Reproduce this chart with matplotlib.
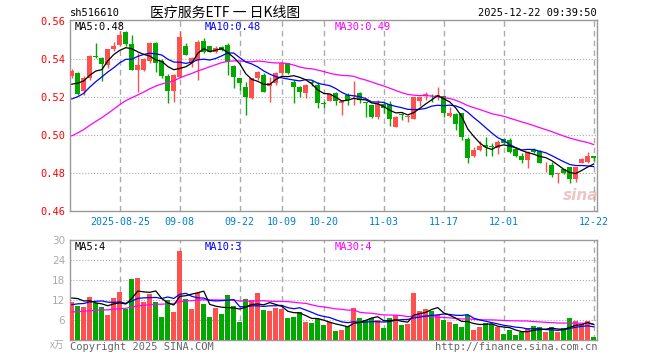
import numpy as np
import pandas as pd
import matplotlib
matplotlib.use("Agg")
import matplotlib.pyplot as plt

plt.rcParams['font.family'] = ['DejaVu Sans Mono', 'Noto Sans CJK SC']

# trading days shown (National Day holiday removed)
days = pd.bdate_range("2025-08-13", "2025-12-22")
days = days[(days < "2025-10-01") | (days > "2025-10-08")]

tick_dates = ["2025-08-25", "2025-09-08", "2025-09-22", "2025-10-09", "2025-10-20",
              "2025-11-03", "2025-11-17", "2025-12-01", "2025-12-22"]
tick_labels = ["2025-08-25", "09-08", "09-22", "10-09", "10-20",
               "11-03", "11-17", "12-01", "12-22"]

opens = [0.5310, 0.5328, 0.5230, 0.5300, 0.5415, 0.5405, 0.5370, 0.5455, 0.5475, 0.5542,
         0.5480, 0.5342, 0.5342, 0.5388, 0.5484, 0.5388, 0.5310, 0.5232, 0.5307, 0.5468,
         0.5377, 0.5395, 0.5495, 0.5467, 0.5439, 0.5465, 0.5474, 0.5363, 0.5298, 0.5251,
         0.5193, 0.5298, 0.5316, 0.5258, 0.5272, 0.5328, 0.5377, 0.5281, 0.5254, 0.5221,
         0.5281, 0.5263, 0.5165, 0.5180, 0.5221, 0.5167, 0.5212, 0.5207, 0.5221, 0.5170,
         0.5156, 0.5097, 0.5165, 0.5163, 0.5044, 0.5111, 0.5095, 0.5084, 0.5179, 0.5203,
         0.5217, 0.5202, 0.5207, 0.5100, 0.5112, 0.5114, 0.4977, 0.4890, 0.4921, 0.4946,
         0.4942, 0.4930, 0.4977, 0.4974, 0.4925, 0.4890, 0.4868, 0.4921, 0.4918, 0.4856,
         0.4842, 0.4796, 0.4821, 0.4830, 0.4768, 0.4854, 0.4860, 0.4888]
highs = [0.5345, 0.5332, 0.5310, 0.5420, 0.5486, 0.5410, 0.5455, 0.5490, 0.5546, 0.5548,
         0.5526, 0.5430, 0.5405, 0.5490, 0.5490, 0.5400, 0.5320, 0.5320, 0.5549, 0.5483,
         0.5410, 0.5500, 0.5510, 0.5470, 0.5467, 0.5470, 0.5483, 0.5370, 0.5300, 0.5281,
         0.5300, 0.5335, 0.5325, 0.5307, 0.5330, 0.5386, 0.5380, 0.5290, 0.5256, 0.5268,
         0.5290, 0.5281, 0.5180, 0.5216, 0.5225, 0.5180, 0.5221, 0.5286, 0.5228, 0.5175,
         0.5160, 0.5184, 0.5170, 0.5177, 0.5100, 0.5114, 0.5104, 0.5200, 0.5200, 0.5228,
         0.5217, 0.5251, 0.5212, 0.5149, 0.5114, 0.5117, 0.4988, 0.4939, 0.4968, 0.4988,
         0.4960, 0.4974, 0.4983, 0.4982, 0.4930, 0.4904, 0.4918, 0.4930, 0.4920, 0.4858,
         0.4858, 0.4802, 0.4823, 0.4833, 0.4833, 0.4879, 0.4912, 0.4888]
lows = [0.5300, 0.5212, 0.5210, 0.5290, 0.5405, 0.5286, 0.5350, 0.5440, 0.5470, 0.5470,
        0.5340, 0.5228, 0.5335, 0.5380, 0.5333, 0.5300, 0.5167, 0.5175, 0.5300, 0.5421,
        0.5360, 0.5290, 0.5430, 0.5435, 0.5430, 0.5440, 0.5316, 0.5246, 0.5237, 0.5105,
        0.5190, 0.5290, 0.5225, 0.5175, 0.5265, 0.5316, 0.5320, 0.5167, 0.5202, 0.5193,
        0.5260, 0.5140, 0.5140, 0.5177, 0.5160, 0.5105, 0.5160, 0.5160, 0.5170, 0.5097,
        0.5090, 0.5083, 0.5117, 0.5049, 0.5040, 0.5079, 0.5070, 0.5083, 0.5151, 0.5186,
        0.5172, 0.5186, 0.5097, 0.5097, 0.5026, 0.4974, 0.4854, 0.4883, 0.4918, 0.4890,
        0.4890, 0.4900, 0.4950, 0.4905, 0.4883, 0.4851, 0.4825, 0.4905, 0.4850, 0.4807,
        0.4777, 0.4746, 0.4796, 0.4746, 0.4754, 0.4851, 0.4851, 0.4865]
closes = [0.5336, 0.5218, 0.5300, 0.5418, 0.5410, 0.5372, 0.5450, 0.5467, 0.5528, 0.5480,
          0.5344, 0.5368, 0.5400, 0.5484, 0.5377, 0.5310, 0.5230, 0.5316, 0.5518, 0.5421,
          0.5405, 0.5490, 0.5438, 0.5439, 0.5460, 0.5445, 0.5386, 0.5307, 0.5275, 0.5198,
          0.5298, 0.5333, 0.5228, 0.5272, 0.5328, 0.5381, 0.5325, 0.5254, 0.5228, 0.5265,
          0.5272, 0.5167, 0.5162, 0.5214, 0.5177, 0.5177, 0.5184, 0.5212, 0.5184, 0.5167,
          0.5095, 0.5163, 0.5140, 0.5086, 0.5097, 0.5107, 0.5099, 0.5198, 0.5198, 0.5216,
          0.5214, 0.5209, 0.5116, 0.5114, 0.5058, 0.4990, 0.4881, 0.4921, 0.4942, 0.4939,
          0.4937, 0.4965, 0.4956, 0.4912, 0.4890, 0.4868, 0.4912, 0.4912, 0.4854, 0.4858,
          0.4790, 0.4800, 0.4798, 0.4767, 0.4830, 0.4872, 0.4890, 0.4877]
# volume, 万手
volumes = [11.5, 10.3, 9.9, 13.0, 11.0, 10.0, 7.5, 12.7, 14.5, 9.3,
           18.3, 18.6, 11.5, 13.8, 11.4, 6.9, 12.0, 8.4, 26.8, 12.3,
           9.3, 14.1, 10.8, 6.9, 9.6, 7.8, 13.5, 10.2, 5.4, 12.3,
           12.0, 14.1, 9.0, 8.7, 9.5, 9.3, 6.6, 6.9, 8.4, 5.4,
           5.1, 6.4, 4.4, 5.4, 2.8, 3.1, 4.1, 9.6, 6.6, 6.1,
           6.6, 6.0, 3.6, 6.6, 7.4, 4.4, 4.8, 14.1, 8.8, 9.3,
           8.8, 7.6, 6.1, 5.4, 4.8, 4.0, 7.4, 3.1, 3.9, 5.1,
           4.8, 3.8, 1.8, 3.0, 1.6, 2.4, 3.6, 4.1, 3.8, 2.4,
           3.8, 2.4, 3.6, 6.6, 5.6, 4.8, 5.6, 0.8]

# sessions before the window, only used to start the moving averages
prior_closes = [0.474, 0.477, 0.476, 0.479, 0.478, 0.480, 0.477, 0.481, 0.486, 0.489,
                0.492, 0.494, 0.497, 0.495, 0.498, 0.501, 0.503, 0.506, 0.505, 0.508,
                0.510, 0.512, 0.509, 0.513, 0.512, 0.519, 0.524, 0.527, 0.530]
prior_volumes = [6.5, 7.0, 8.2, 6.8, 7.5, 6.2, 7.9, 8.5, 6.4, 7.1,
                 7.8, 6.9, 8.0, 7.2, 6.6, 7.7, 8.3, 7.0, 6.9, 7.5,
                 7.8, 8.9, 8.2, 9.1, 9.0, 11.2, 13.5, 12.6, 14.2]

RED = '#ff5050'
GREEN = '#00a800'
GRID = '#aaaaaa'
FRAME = '#999999'
MA_COLORS = {5: 'black', 10: '#0000ff', 30: '#ff00ff'}

n = len(closes)
x = np.arange(n)
o = np.array(opens)
c = np.array(closes)
up = c >= o
colors = [RED if u else GREEN for u in up]

all_c = pd.Series(prior_closes + closes)
all_v = pd.Series(prior_volumes + volumes)
k = len(prior_closes)
ma_price = {m: all_c.rolling(m).mean().values[k:] for m in (5, 10, 30)}
ma_vol = {m: all_v.rolling(m).mean().values[k:] for m in (5, 10, 30)}

tick_idx = [days.get_loc(pd.Timestamp(d)) for d in tick_dates]

W, H = 660, 360
fig = plt.figure(figsize=(6.6, 3.6), dpi=100)
ax = fig.add_axes([70 / W, 1 - 211 / H, 527 / W, 191 / H])
axv = fig.add_axes([70 / W, 1 - 340 / H, 527 / W, 100 / H])

for a in (ax, axv):
    for s in a.spines.values():
        s.set_color(FRAME)
        s.set_linewidth(1)
    a.set_xlim(-0.3, n - 0.45)
    a.tick_params(length=0)
    for t in tick_idx:
        a.axvline(t, color=GRID, lw=1, ls=(0, (4, 3)), zorder=0)

# price panel
ax.set_ylim(0.46, 0.5605)
for yv in [0.48, 0.50, 0.52, 0.54]:
    ax.axhline(yv, color=GRID, lw=0.8, ls=':', zorder=0)
ax.set_yticks([0.46, 0.48, 0.50, 0.52, 0.54, 0.56])
ax.set_yticklabels(['%.2f' % v for v in [0.46, 0.48, 0.50, 0.52, 0.54, 0.56]],
                   color='red', fontsize=7.5)
ax.set_xticks(tick_idx)
ax.set_xticklabels(tick_labels, color='#0080d0', fontsize=7.2)
ax.tick_params(axis='x', pad=4)
ax.tick_params(axis='y', pad=3)

ax.vlines(x, lows, highs, colors=colors, lw=1, zorder=2)
body = np.maximum(np.abs(c - o), 0.0004)
ax.bar(x, body, bottom=np.minimum(o, c), width=0.8, color=colors, lw=0, zorder=3)
for m in (30, 10, 5):
    ax.plot(x, ma_price[m], color=MA_COLORS[m], lw=0.9, zorder=4)

# volume panel
axv.set_ylim(0, 30)
for yv in [6, 12, 18, 24]:
    axv.axhline(yv, color=GRID, lw=0.8, ls=':', zorder=0)
axv.set_yticks([6, 12, 18, 24, 30])
axv.set_yticklabels(['6', '12', '18', '24', '30'], color='#aaaaaa', fontsize=7.5,
                    family='DejaVu Sans')
axv.set_xticks([])
axv.bar(x, volumes, width=0.8, color=colors, lw=0, zorder=3)
for m in (30, 10, 5):
    axv.plot(x, ma_vol[m], color=MA_COLORS[m], lw=0.9, zorder=4)

def txt(px, py, s, **kw):
    fig.text(px / W, 1 - py / H, s, va='center', **kw)

txt(70, 13, 'sh516610', fontsize=7.5, color='black')
txt(150, 13, '医疗服务ETF 一 日K线图', fontsize=10,
    family=['Noto Sans CJK SC', 'DejaVu Sans'], color='black')
txt(597, 13, '2025-12-22 09:39:50', fontsize=7.5, ha='right', color='black')

txt(75, 27, 'MA5:%.2f' % ma_price[5][-1], fontsize=7.5, color='black')
txt(205, 27, 'MA10:%.2f' % ma_price[10][-1], fontsize=7.5, color='#0000ff')
txt(335, 27, 'MA30:%.2f' % ma_price[30][-1], fontsize=7.5, color='#ff00ff')

txt(75, 247, 'MA5:%d' % ma_vol[5][-1], fontsize=7.5, color='black')
txt(205, 247, 'MA10:%d' % ma_vol[10][-1], fontsize=7.5, color='#0000ff')
txt(335, 247, 'MA30:%d' % ma_vol[30][-1], fontsize=7.5, color='#ff00ff')

txt(64, 345, 'x万', fontsize=7, ha='right', color='#aaaaaa',
    family=['Noto Sans CJK SC', 'DejaVu Sans'])
txt(70, 347, 'Copyright 2025 SINA.COM', fontsize=7.5, color='#666666')
txt(597, 347, 'http://finance.sina.com.cn', fontsize=7.5, ha='right', color='#666666')
txt(581, 196, 'sina', fontsize=11, ha='center', color='#e0a0a0', alpha=0.6,
    style='italic', weight='bold', family='DejaVu Sans')

fig.savefig('out.png', dpi=100)
